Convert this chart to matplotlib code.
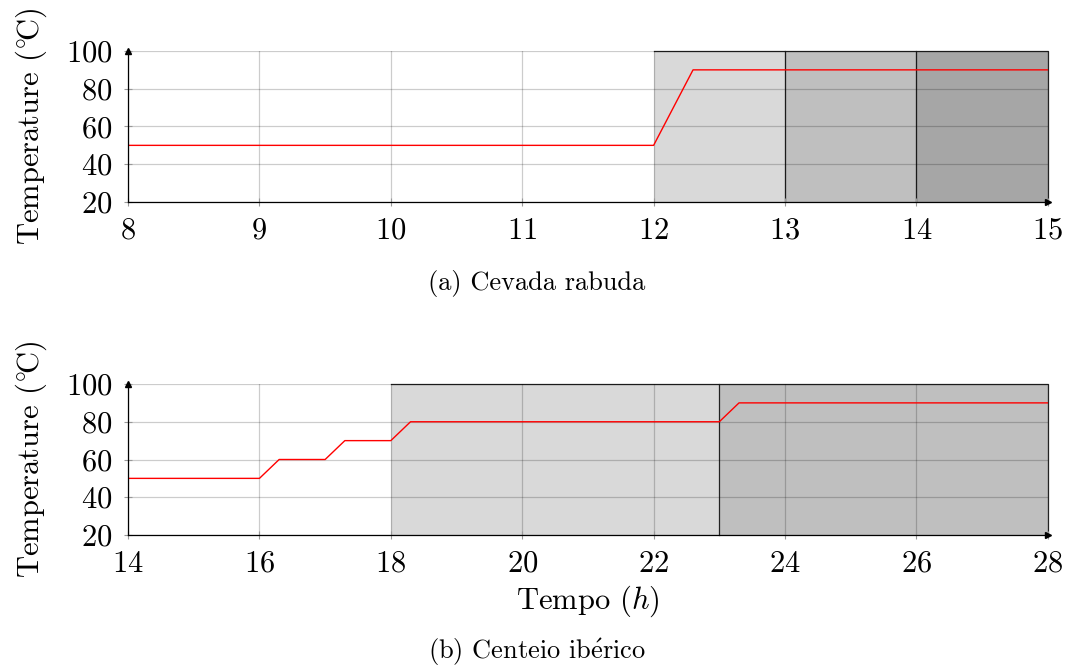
import matplotlib
matplotlib.use("Agg")
import matplotlib.pyplot as plt
from matplotlib.patches import Rectangle

plt.rcParams['font.family'] = ['cmr10', 'DejaVu Serif']
plt.rcParams['mathtext.fontset'] = 'cm'
plt.rcParams['axes.formatter.use_mathtext'] = True

# (a) Cevada rabuda
t_a = [8, 12, 12.3, 15]
temp_a = [50, 50, 90, 90]
stages_a = [(12, 13), (13, 14), (14, 15)]
shades_a = ['#d9d9d9', '#bfbfbf', '#a6a6a6']
xticks_a = [8, 9, 10, 11, 12, 13, 14, 15]

# (b) Centeio ibérico
t_b = [14, 16, 16.3, 17, 17.3, 18, 18.3, 23, 23.3, 28]
temp_b = [50, 50, 60, 60, 70, 70, 80, 80, 90, 90]
stages_b = [(18, 23), (23, 28)]
shades_b = ['#d9d9d9', '#bfbfbf']
xticks_b = [14, 16, 18, 20, 22, 24, 26, 28]

yticks = [20, 40, 60, 80, 100]

fig = plt.figure(figsize=(10.67, 6.71), dpi=100)
ax1 = fig.add_axes([0.12, 0.699, 0.862, 0.225])
ax2 = fig.add_axes([0.12, 0.2027, 0.862, 0.225])


def draw(ax, t, temp, stages, shades, xticks):
    for (a, b), c in zip(stages, shades):
        ax.add_patch(Rectangle((a, 20), b - a, 80, facecolor=c,
                               edgecolor='none', zorder=0.5))
        # top and right border of each stage
        ax.plot([a, b, b], [100, 100, 20], color='#222222', lw=0.9,
                zorder=2, clip_on=False)
    ax.plot(t, temp, color='red', lw=1.0, zorder=3)
    ax.set_xlim(xticks[0], xticks[-1])
    ax.set_ylim(20, 100)
    ax.set_xticks(xticks)
    ax.set_yticks(yticks)
    ax.grid(True, color='black', alpha=0.2, lw=0.9, zorder=1)
    ax.set_axisbelow(False)
    for s in ['top', 'right']:
        ax.spines[s].set_visible(False)
    for s in ['left', 'bottom']:
        ax.spines[s].set_linewidth(0.9)
        ax.spines[s].set_zorder(4)
    ax.tick_params(direction='inout', length=6, width=0.8, color='#999999',
                   labelsize=22, pad=8)
    ax.plot(0, 1, marker='^', color='black', ms=4, transform=ax.transAxes,
            clip_on=False, zorder=5)
    ax.plot(1, 0, marker='>', color='black', ms=4, transform=ax.transAxes,
            clip_on=False, zorder=5)
    ax.set_ylabel(r'Temperature (${}^{\circ}\!$C)', fontsize=22, labelpad=12)


draw(ax1, t_a, temp_a, stages_a, shades_a, xticks_a)
draw(ax2, t_b, temp_b, stages_b, shades_b, xticks_b)
ax2.set_xlabel(r'Tempo ($h$)', fontsize=22, labelpad=4)

fig.text(0.503, 0.578, '(a) Cevada rabuda', ha='center', va='center', fontsize=19)
fig.text(0.503, 0.028, r'(b) Centeio ib$\mathrm{\acute{e}}$rico', ha='center',
         va='center', fontsize=19)

fig.savefig('out.png', dpi=100)
